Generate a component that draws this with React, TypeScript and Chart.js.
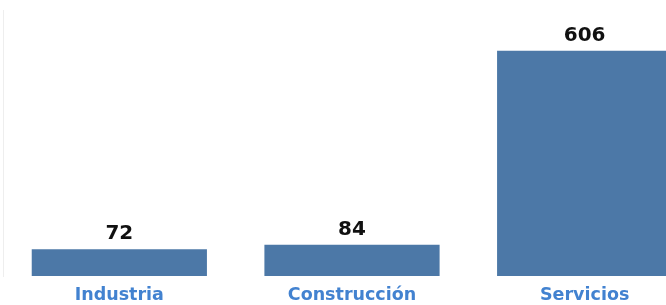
import React, { useEffect, useRef } from "react";
import { Chart, registerables } from "chart.js";

Chart.register(...registerables);

const categories = ["Industria", "Construcción", "Servicios"];
const values = [72, 84, 606];
const yMax = 716;

const FONT = "'DejaVu Sans', Verdana, sans-serif";

const labelsPlugin = {
  id: "labelsPlugin",
  afterDatasetsDraw(chart: any) {
    const { ctx, chartArea } = chart;
    const meta = chart.getDatasetMeta(0);
    const xScale = chart.scales.x;
    ctx.save();
    ctx.textAlign = "center";
    ctx.font = `bold 20px ${FONT}`;
    ctx.fillStyle = "#111111";
    ctx.textBaseline = "alphabetic";
    meta.data.forEach((bar: any, i: number) => {
      ctx.fillText(String(values[i]), bar.x, bar.y - 10);
    });
    ctx.font = `bold 17.5px ${FONT}`;
    ctx.fillStyle = "#4282d0";
    ctx.textBaseline = "middle";
    categories.forEach((c, i) => {
      ctx.fillText(c, xScale.getPixelForValue(i), chartArea.bottom + 19);
    });
    ctx.restore();
  },
};

export default function App() {
  const ref = useRef<HTMLCanvasElement>(null);
  useEffect(() => {
    if (!ref.current) return;
    const chart = new Chart(ref.current, {
      type: "bar",
      data: {
        labels: categories,
        datasets: [
          {
            data: values,
            backgroundColor: "#4c78a7",
            borderWidth: 0,
            categoryPercentage: 1,
            barPercentage: 0.753,
          },
        ],
      },
      options: {
        responsive: false,
        animation: false,
        maintainAspectRatio: false,
        layout: { padding: { left: 3, right: 0, top: 10, bottom: 29 } },
        plugins: { legend: { display: false }, tooltip: { enabled: false } },
        scales: {
          x: {
            grid: { display: false, drawTicks: false },
            border: { display: false },
            ticks: { display: false },
          },
          y: {
            min: 0,
            max: yMax,
            grid: { display: false, drawTicks: false },
            border: { display: true, color: "#eeeeee", width: 1 },
            ticks: { display: false },
          },
        },
      },
      plugins: [labelsPlugin],
    });
    return () => chart.destroy();
  }, []);
  return (
    <div
      style={{
        position: "fixed",
        left: 0,
        top: 0,
        width: 666,
        height: 305,
        overflow: "hidden",
        background: "#ffffff",
      }}
    >
      <canvas ref={ref} width={701} height={305} style={{ display: "block" }} />
    </div>
  );
}
